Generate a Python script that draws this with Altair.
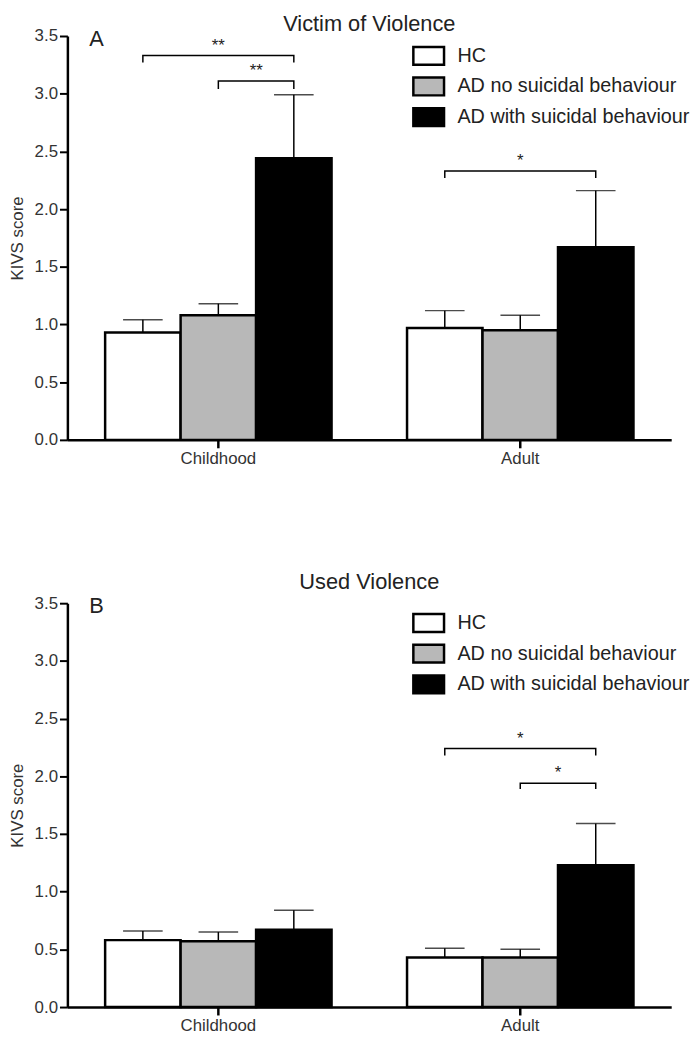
import altair as alt
import pandas as pd

FONT = "Liberation Sans"

periods = ["Childhood", "Adult"]
groups = ["HC", "AD no suicidal behaviour", "AD with suicidal behaviour"]
fills = ["white", "#b8b8b8", "black"]

# Panel A: Victim of Violence (mean and mean + SEM)
victim_childhood_mean = [0.93, 1.08, 2.44]
victim_childhood_upper = [1.04, 1.18, 2.99]
victim_adult_mean = [0.97, 0.95, 1.67]
victim_adult_upper = [1.12, 1.08, 2.16]

# Panel B: Used Violence
used_childhood_mean = [0.58, 0.57, 0.67]
used_childhood_upper = [0.66, 0.65, 0.84]
used_adult_mean = [0.43, 0.43, 1.23]
used_adult_upper = [0.51, 0.50, 1.59]

# Significance brackets: (period, from group idx, to group idx, bar level, tip level, label)
victim_brackets = [
    ("Childhood", 0, 2, 3.33, 3.27, "**"),
    ("Childhood", 1, 2, 3.11, 3.04, "**"),
    ("Adult", 0, 2, 2.33, 2.27, "*"),
]
used_brackets = [
    ("Adult", 0, 2, 2.24, 2.18, "*"),
    ("Adult", 1, 2, 1.94, 1.89, "*"),
]

y_ticks = [0.0, 0.5, 1.0, 1.5, 2.0, 2.5, 3.0, 3.5]


def bar_table(ch_mean, ch_up, ad_mean, ad_up):
    rows = []
    for period, means, ups in (("Childhood", ch_mean, ch_up), ("Adult", ad_mean, ad_up)):
        for g, m, u in zip(groups, means, ups):
            rows.append({"period": period, "group": g, "value": m, "upper": u})
    return pd.DataFrame(rows)


def bracket_tables(brackets):
    lines, stars = [], []
    for bid, (period, i, j, level, tip, label) in enumerate(brackets):
        pts = [(groups[i], tip), (groups[i], level), (groups[j], level), (groups[j], tip)]
        for k, (g, v) in enumerate(pts):
            lines.append({"period": period, "group": g, "value": v, "ord": k, "bid": bid})
        between = (i + j) % 2 == 1
        star_group = groups[j] if between else groups[(i + j) // 2]
        stars.append({"period": period, "group": star_group, "value": level,
                      "text": label, "between": between})
    return pd.DataFrame(lines), pd.DataFrame(stars)


def x_enc():
    return alt.X("period:N", sort=periods,
                 scale=alt.Scale(domain=periods, paddingInner=0.25, paddingOuter=0.125),
                 axis=alt.Axis(title=None, labelAngle=0, bandPosition=0.5, tickSize=8,
                               tickWidth=2.5, labelPadding=3))


def xo_enc():
    return alt.XOffset("group:N", sort=groups,
                       scale=alt.Scale(domain=groups, paddingInner=0, paddingOuter=0))


def y_enc(field="value"):
    return alt.Y(f"{field}:Q", title="KIVS score",
                 scale=alt.Scale(domain=[0, 3.5], nice=False, zero=True),
                 axis=alt.Axis(values=y_ticks, format=".1f", titlePadding=8,
                               tickSize=8, tickWidth=2, labelPadding=2))


def panel(df, brackets, title, letter, title_offset):
    lines_df, stars_df = bracket_tables(brackets)

    bars = alt.Chart(df).mark_bar(stroke="black", strokeWidth=2.5).encode(
        x=x_enc(), xOffset=xo_enc(), y=y_enc(),
        fill=alt.Fill("group:N", sort=groups,
                      scale=alt.Scale(domain=groups, range=fills),
                      legend=alt.Legend(title=None, orient="none", legendX=348, legendY=3,
                                        symbolType="M-1,-0.58H1V0.58H-1Z", symbolSize=961,
                                        symbolStrokeColor="black", symbolStrokeWidth=2.5,
                                        symbolOpacity=1,
                                        labelFont=FONT, labelFontSize=20, labelColor="#222",
                                        labelOffset=12, rowPadding=-5, labelLimit=400)),
    )
    err = alt.Chart(df).mark_rule(color="black", strokeWidth=1.5).encode(
        x=x_enc(), xOffset=xo_enc(), y=y_enc(), y2=alt.Y2("upper:Q", title=None),
    )
    caps = alt.Chart(df).mark_tick(color="black", thickness=1.5, size=40).encode(
        x=x_enc(), xOffset=xo_enc(), y=y_enc("upper"),
    )
    layers = [bars, err, caps]
    if len(lines_df):
        br = alt.Chart(lines_df).mark_line(color="black", strokeWidth=1.5).encode(
            x=x_enc(), xOffset=xo_enc(), y=y_enc(), detail="bid:N", order="ord:Q",
        )
        st_c = alt.Chart(stars_df).transform_filter("!datum.between").mark_text(
            font=FONT, fontSize=17, color="#222", baseline="middle", dy=-10
        ).encode(x=x_enc(), xOffset=xo_enc(), y=y_enc(), text="text:N")
        st_b = alt.Chart(stars_df).transform_filter("datum.between").mark_text(
            font=FONT, fontSize=17, color="#222", baseline="middle", dy=-10, dx=-38
        ).encode(x=x_enc(), xOffset=xo_enc(), y=y_enc(), text="text:N")
        layers += [br, st_c, st_b]
    lab = alt.Chart(pd.DataFrame({"t": [letter]})).mark_text(
        font=FONT, fontSize=22, color="#222", align="left", baseline="alphabetic"
    ).encode(x=alt.value(22), y=alt.value(10), text="t:N")
    layers.append(lab)
    return alt.layer(*layers).properties(
        width=610, height=408,
        title=alt.TitleParams(title, font=FONT, fontSize=22, fontWeight="normal",
                              color="#222", anchor="middle", offset=title_offset),
    )


dfA = bar_table(victim_childhood_mean, victim_childhood_upper, victim_adult_mean, victim_adult_upper)
dfB = bar_table(used_childhood_mean, used_childhood_upper, used_adult_mean, used_adult_upper)

chart = alt.vconcat(
    panel(dfA, victim_brackets, "Victim of Violence", "A", -9),
    panel(dfB, used_brackets, "Used Violence", "B", 0),
    spacing=106,
).resolve_scale(fill="independent").resolve_legend(fill="independent").properties(
    padding={"left": 0, "top": 0, "right": 2, "bottom": 2}
).configure_view(stroke=None).configure_axis(
    grid=False, domainColor="black", domainWidth=2.5, tickColor="black",
    labelFont=FONT, labelFontSize=17, labelColor="#333",
    titleFont=FONT, titleFontSize=17, titleFontWeight="normal", titleColor="#333",
)

chart.save("out.html", embed_options={"renderer": "svg", "actions": False})
